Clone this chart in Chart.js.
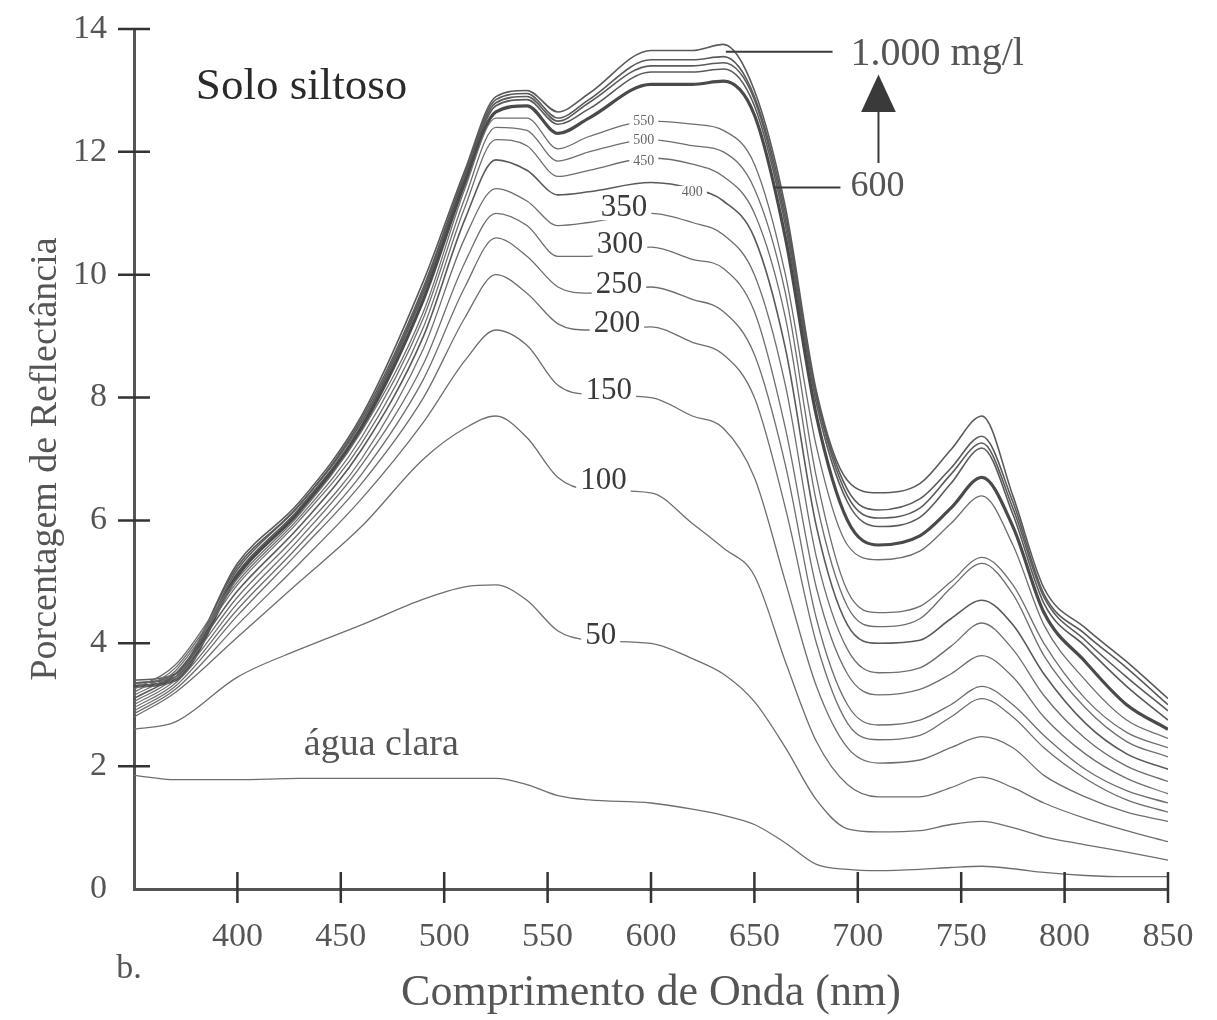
<!DOCTYPE html>
<html>
<head>
<meta charset="utf-8">
<script src="https://cdn.jsdelivr.net/npm/chart.js@4.4.1/dist/chart.umd.min.js"></script>
<style>
html,body{margin:0;padding:0;background:#fff;}
canvas{display:block;}
</style>
</head>
<body>
<canvas id="chart" width="1217" height="1020"></canvas>
<script>
// ---------------- DATA ----------------
const wavelengths = [350,370,400,430,460,490,510,525,540,555,570,600,620,635,650,665,680,695,710,730,745,760,775,790,810,830,850];

const aguaClara = [1.85,1.78,1.78,1.8,1.8,1.8,1.8,1.8,1.7,1.52,1.45,1.4,1.3,1.2,1.05,0.75,0.4,0.32,0.3,0.32,0.35,0.37,0.33,0.27,0.22,0.2,0.2];
const c50   = [2.6,2.72,3.45,3.9,4.3,4.72,4.92,4.95,4.7,4.2,4.05,4.0,3.75,3.5,3.05,2.3,1.45,0.98,0.93,0.95,1.05,1.1,1.0,0.85,0.72,0.6,0.47];
const c100  = [2.8,3.2,4.1,5.0,5.9,7.0,7.5,7.7,7.35,6.7,6.5,6.45,5.95,5.55,5.1,3.7,2.4,1.7,1.5,1.5,1.65,1.82,1.65,1.4,1.15,0.95,0.77];
const c150  = [2.85,3.25,4.3,5.3,6.35,7.6,8.6,9.1,8.85,8.2,8.05,8.0,7.7,7.5,6.7,5.0,3.3,2.3,2.05,2.1,2.3,2.48,2.3,1.85,1.5,1.25,1.1];
const c200  = [2.9,3.3,4.45,5.5,6.6,8.0,9.3,10.0,9.7,9.2,9.1,9.15,8.9,8.7,8.0,6.2,4.0,2.7,2.43,2.5,2.8,3.1,2.8,2.3,1.8,1.45,1.25];
const c250  = [2.95,3.35,4.55,5.6,6.75,8.3,9.8,10.6,10.3,9.8,9.7,9.8,9.6,9.4,8.7,6.9,4.4,3.0,2.67,2.75,3.0,3.3,3.0,2.5,1.95,1.6,1.4];
const c300  = [3.0,3.4,4.65,5.7,6.9,8.55,10.2,11.0,10.8,10.3,10.3,10.45,10.25,10.1,9.4,7.5,4.9,3.5,3.16,3.25,3.5,3.8,3.45,2.8,2.2,1.8,1.55];
const c350  = [3.05,3.45,4.75,5.8,7.0,8.8,10.6,11.4,11.2,10.8,10.85,11.0,10.85,10.65,10.0,8.2,5.4,3.9,3.52,3.6,3.95,4.33,3.9,3.15,2.45,2.0,1.75];
const c400  = [3.1,3.5,4.85,5.9,7.15,9.0,10.9,11.87,11.7,11.3,11.35,11.5,11.4,11.2,10.6,8.8,5.9,4.3,4.0,4.05,4.4,4.7,4.3,3.5,2.7,2.2,1.95];
const c450  = [3.15,3.55,4.95,6.0,7.25,9.15,11.1,12.2,12.1,11.6,11.7,11.9,11.8,11.6,11.0,9.3,6.3,4.6,4.27,4.4,4.9,5.3,4.8,3.8,2.95,2.4,2.15];
const c500  = [3.2,3.6,5.0,6.05,7.35,9.3,11.25,12.4,12.35,11.85,12.0,12.2,12.1,12.0,11.4,9.7,6.7,4.85,4.5,4.6,5.0,5.4,4.95,4.0,3.1,2.55,2.3];
const c550  = [3.25,3.65,5.05,6.1,7.45,9.4,11.4,12.55,12.55,12.05,12.25,12.5,12.45,12.35,11.8,10.0,7.2,5.6,5.36,5.5,5.95,6.4,5.6,4.3,3.4,2.75,2.45];
const c600  = [3.3,3.4,5.1,6.15,7.5,9.6,11.5,12.65,12.75,12.3,12.55,13.1,13.1,13.15,12.6,10.6,7.7,6.0,5.6,5.75,6.2,6.7,5.9,4.5,3.7,3.0,2.6];
const c700  = [3.3,3.45,5.15,6.2,7.55,9.7,11.55,12.75,12.85,12.45,12.7,13.3,13.3,13.35,12.75,10.8,7.9,6.3,5.9,6.05,6.6,7.18,6.1,4.65,3.95,3.3,2.75];
const c800  = [3.35,3.45,5.2,6.25,7.6,9.75,11.6,12.8,12.9,12.5,12.8,13.4,13.4,13.45,12.85,10.9,8.0,6.4,6.04,6.2,6.75,7.26,6.2,4.75,4.05,3.45,2.9];
const c900  = [3.35,3.5,5.25,6.25,7.65,9.8,11.65,12.85,12.95,12.55,12.85,13.5,13.5,13.55,12.9,11.0,8.05,6.5,6.17,6.35,6.85,7.37,6.3,4.8,4.15,3.6,3.0];
const c1000 = [3.4,3.5,5.3,6.3,7.7,9.9,11.7,12.9,13.0,12.65,12.95,13.65,13.65,13.75,13.0,11.1,8.1,6.65,6.45,6.6,7.15,7.7,6.4,4.9,4.25,3.7,3.1];

const seriesNames  = ['água clara','50 mg/l','100 mg/l','150 mg/l','200 mg/l','250 mg/l','300 mg/l','350 mg/l','400 mg/l','450 mg/l','500 mg/l','550 mg/l','600 mg/l','700 mg/l','800 mg/l','900 mg/l','1.000 mg/l'];
const seriesValues = [aguaClara,c50,c100,c150,c200,c250,c300,c350,c400,c450,c500,c550,c600,c700,c800,c900,c1000];

const xTickValues = [400,450,500,550,600,650,700,750,800,850];
const yTickValues = [0,2,4,6,8,10,12,14];

const xTitle = 'Comprimento de Onda (nm)';
const yTitle = 'Porcentagem de Reflectância';

// label texts placed on the curves (data coordinates)
const curveLabelTexts = ['350','300','250','200','150','100','50'];
const curveLabelX     = [587,585,584.5,583.5,579.6,577,575.7];
const curveLabelY     = [11.1,10.5,9.85,9.22,8.13,6.66,4.14];
const smallLabelTexts = ['550','500','450','400'];
const smallLabelX     = [596.5,596.5,596.5,620];
const smallLabelY     = [12.52,12.2,11.87,11.35];

// ---------------- STYLE ----------------
const FONT = '"Liberation Serif", "DejaVu Serif", serif';
function styleFor(name){
  if (name === '600 mg/l') return {color:'#4a4a4a', width:3.2};
  if (['700 mg/l','800 mg/l','900 mg/l','1.000 mg/l','400 mg/l'].includes(name)) return {color:'#5a5a5a', width:1.6};
  return {color:'#6e6e6e', width:1.3};
}

const datasets = seriesNames.map((name, i) => {
  const st = styleFor(name);
  return {
    label: name,
    data: wavelengths.map((w, j) => ({x: w, y: seriesValues[i][j]})),
    borderColor: st.color,
    borderWidth: st.width,
    pointRadius: 0,
    fill: false,
    cubicInterpolationMode: 'monotone'
  };
});

const decorPlugin = {
  id: 'decor',
  afterDatasetsDraw(chart){
    const {ctx, scales:{x, y}} = chart;
    const X = v => x.getPixelForValue(v), Y = v => y.getPixelForValue(v);
    ctx.save();
    const drawLab = (t, vx, vy, size, color) => {
      ctx.font = `${size}px ${FONT}`;
      const w = ctx.measureText(t).width;
      const px = X(vx), py = Y(vy);
      ctx.fillStyle = '#fff';
      ctx.fillRect(px - w/2 - 4, py - size*0.42, w + 8, size*0.84);
      ctx.fillStyle = color;
      ctx.textAlign = 'center';
      ctx.textBaseline = 'middle';
      ctx.fillText(t, px, py + 1);
    };
    curveLabelTexts.forEach((t, i) => drawLab(t, curveLabelX[i], curveLabelY[i], 31, '#3a3a3a'));
    smallLabelTexts.forEach((t, i) => drawLab(t, smallLabelX[i], smallLabelY[i], 14, '#666'));

    ctx.fillStyle = '#2a2a2a';
    ctx.font = `45px ${FONT}`;
    ctx.textAlign = 'center';
    ctx.textBaseline = 'middle';
    ctx.fillText('Solo siltoso', X(431), Y(13.05));

    ctx.fillStyle = '#555';
    ctx.font = `38px ${FONT}`;
    ctx.fillText('água clara', X(469.6), Y(2.35));

    ctx.strokeStyle = '#3a3a3a';
    ctx.lineWidth = 2;
    ctx.beginPath();
    ctx.moveTo(X(636.2), Y(13.63)); ctx.lineTo(X(687.8), Y(13.63));
    ctx.moveTo(X(659.3), Y(11.42)); ctx.lineTo(X(691.6), Y(11.42));
    ctx.moveTo(X(710), Y(11.82)); ctx.lineTo(X(710), Y(12.65));
    ctx.stroke();
    ctx.fillStyle = '#3a3a3a';
    ctx.beginPath();
    ctx.moveTo(X(710), Y(13.26));
    ctx.lineTo(X(701.6), Y(12.65));
    ctx.lineTo(X(718.4), Y(12.65));
    ctx.closePath();
    ctx.fill();

    ctx.fillStyle = '#555';
    ctx.textAlign = 'left';
    ctx.font = `40px ${FONT}`;
    ctx.fillText('1.000 mg/l', X(696.5), Y(13.58));
    ctx.font = `36px ${FONT}`;
    ctx.fillText('600', X(696.5), Y(11.43));

    ctx.font = `34px ${FONT}`;
    ctx.fillStyle = '#555';
    ctx.textAlign = 'center';
    ctx.fillText('b.', X(347.6), Y(-1.3));
    ctx.restore();
  },
  afterDraw(chart){
    const {ctx, chartArea, scales:{x, y}} = chart;
    ctx.save();
    ctx.strokeStyle = '#333';
    ctx.lineWidth = 2.5;
    ctx.beginPath();
    yTickValues.filter(v => v !== 0).forEach(v => {
      const py = y.getPixelForValue(v);
      ctx.moveTo(chartArea.left - 16, py); ctx.lineTo(chartArea.left + 16, py);
    });
    xTickValues.forEach(v => {
      const px = x.getPixelForValue(v);
      ctx.moveTo(px, chartArea.bottom - 17); ctx.lineTo(px, chartArea.bottom + 14);
    });
    ctx.stroke();
    ctx.restore();
  }
};

new Chart(document.getElementById('chart').getContext('2d'), {
  type: 'line',
  data: { datasets },
  options: {
    responsive: false,
    animation: false,
    devicePixelRatio: 1,
    layout: { padding: { top: 29, right: 49, left: 0, bottom: 0 } },
    plugins: { legend: { display: false }, tooltip: { enabled: false } },
    scales: {
      x: {
        type: 'linear', min: 350, max: 850,
        afterFit(s){ s.height = 131; s.paddingLeft = 0; s.paddingRight = 0; },
        afterBuildTicks(s){ s.ticks = xTickValues.map(v => ({value: v})); },
        grid: { display: false, drawTicks: false },
        border: { display: true, color: '#555', width: 3 },
        ticks: { padding: 28, color: '#555', autoSkip: false, maxRotation: 0,
                 font: { family: FONT, size: 34 } },
        title: { display: true, text: xTitle, color: '#555',
                 font: { family: FONT, size: 44 }, padding: { top: 0, bottom: 0 } }
      },
      y: {
        type: 'linear', min: 0, max: 14,
        afterFit(s){ s.width = 134; s.paddingTop = 0; s.paddingBottom = 0; },
        afterBuildTicks(s){ s.ticks = yTickValues.map(v => ({value: v})); },
        grid: { display: false, drawTicks: false },
        border: { display: true, color: '#555', width: 3 },
        ticks: { padding: 27, color: '#555', font: { family: FONT, size: 34 } },
        title: { display: true, text: yTitle, color: '#555',
                 font: { family: FONT, size: 38 }, padding: { top: 23, bottom: 0 } }
      }
    }
  },
  plugins: [decorPlugin]
});
</script>
</body>
</html>
